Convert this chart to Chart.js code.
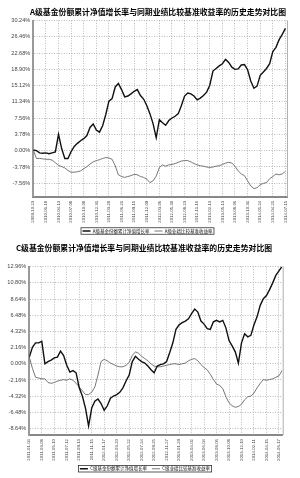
<!DOCTYPE html>
<html>
<head>
<meta charset="utf-8">
<script src="https://cdn.jsdelivr.net/npm/chart.js@4.4.1/dist/chart.umd.min.js"></script>
<style>
html, body { margin: 0; padding: 0; width: 300px; height: 478px; overflow: hidden; background: #fff; }
.title { position: absolute; width: 300px; text-align: center; white-space: nowrap;
  font: bold 7.85px/10px "Noto Sans CJK SC", sans-serif; color: #000; z-index: 2; }
.box { position: absolute; left: 0; width: 300px; }
</style>
</head>
<body>
<div class="title" style="left:8px;top:7px">A级基金份额累计净值增长率与同期业绩比较基准收益率的历史走势对比图</div>
<div class="box" style="top:0;height:244px"><canvas id="chartA"></canvas></div>
<div class="title" style="left:-6px;top:243px">C级基金份额累计净值增长率与同期业绩比较基准收益率的历史走势对比图</div>
<div class="box" style="top:243px;height:238px"><canvas id="chartC"></canvas></div>
<script>
// x tick dates, one every 4 samples
const datesA = ['2009-10-23', '2010-01-18', '2010-04-13', '2010-07-08', '2010-10-08', '2010-12-31',
  '2011-03-28', '2011-06-21', '2011-09-15', '2011-12-09', '2012-03-06', '2012-05-30', '2012-08-23',
  '2012-11-16', '2013-02-13', '2013-05-13', '2013-08-06', '2013-10-31', '2014-01-24', '2014-04-21', '2014-07-15'];
const datesC = ['2011-01-04', '2011-03-08', '2011-05-10', '2011-07-12', '2011-09-13', '2011-11-15',
  '2012-01-17', '2012-03-20', '2012-05-22', '2012-07-24', '2012-09-25', '2012-11-27', '2013-01-29',
  '2013-04-02', '2013-06-04', '2013-08-06', '2013-10-08', '2013-12-10', '2014-02-11', '2014-04-15', '2014-06-17'];

// y ticks (%)
const ticksA = [30.24, 26.46, 22.68, 18.90, 15.12, 11.34, 7.56, 3.78, 0, -3.78, -7.56];
const ticksC = [12.96, 10.80, 8.64, 6.48, 4.32, 2.16, 0, -2.16, -4.32, -6.48, -8.64];

// A share: fund NAV growth and benchmark (%)
const fundA = [0.15, 0.0, -0.5, -0.6, -0.5, -0.7, -0.5, -0.3, 3.8, 0.5,
  -1.8, -1.8, -0.2, 1.0, 1.7, 2.3, 2.8, 3.5, 5.4, 6.2,
  4.8, 4.3, 5.8, 8.4, 11.5, 12.1, 14.8, 15.6, 14.2, 12.5,
  12.7, 13.2, 13.8, 14.2, 12.8, 12.0, 10.5, 8.6, 6.3, 3.0,
  7.2, 6.5, 5.9, 7.0, 7.6, 8.0, 8.6, 10.5, 12.7, 13.4,
  13.2, 12.7, 11.8, 12.2, 12.8, 13.6, 15.2, 18.5, 19.1, 19.7,
  20.2, 21.2, 20.5, 19.4, 18.9, 19.0, 19.9, 20.0, 18.8, 16.2,
  14.5, 15.0, 17.5, 18.3, 19.1, 20.2, 23.0, 24.0, 25.8, 27.0, 28.4];
const benchA = [0.15, -1.8, -1.8, -1.9, -2.0, -2.0, -2.2, -2.8, -3.4, -3.7,
  -4.0, -4.6, -5.0, -5.0, -4.9, -4.7, -4.2, -3.7, -3.1, -2.6,
  -2.3, -2.1, -1.8, -1.6, -1.7, -2.0, -3.5, -5.6, -6.0, -6.2,
  -6.0, -5.8, -5.5, -5.6, -6.0, -6.2, -6.6, -7.4, -7.0, -5.9,
  -3.9, -3.3, -3.6, -3.3, -3.2, -3.0, -2.7, -2.4, -2.3, -2.3,
  -2.6, -3.0, -3.3, -3.5, -3.6, -3.8, -3.9, -3.8, -3.6, -3.5,
  -3.2, -2.9, -2.7, -2.9, -3.6, -4.7, -5.4, -5.8, -7.0, -8.2,
  -8.8, -8.6, -7.9, -7.6, -7.4, -6.5, -6.0, -5.4, -5.6, -5.4, -4.8];

// C share
const fundC = [0.9, 2.2, 2.8, 2.8, 3.0, 0.0, 0.3, 0.5, 0.8, 0.9,
  1.7, 1.1, -0.2, -1.1, -0.9, -1.2, -3.2, -4.3, -5.9, -8.3,
  -5.9, -5.0, -4.7, -5.3, -6.2, -5.6, -4.6, -4.3, -4.1, -3.8,
  -3.2, -2.3, -1.5, 0.3, 1.0, 0.6, 0.3, 0.1, -0.3, -0.8,
  -1.2, -0.3, -0.1, 0.0, 0.3, 1.5, 2.8, 4.6, 5.2, 5.5,
  5.7, 6.0, 6.7, 7.3, 6.9, 5.7, 5.3, 4.7, 4.6, 5.6,
  5.8, 5.6, 5.8, 4.8, 3.1, 2.4, 1.6, 0.1, 2.8, 4.0,
  3.6, 3.8, 5.2, 6.3, 7.8, 8.7, 9.1, 9.9, 10.8, 11.8, 12.4, 13.0];
const benchC = [0.9, -0.6, -1.8, -1.9, -2.0, -2.0, -2.5, -2.6, -2.5, -2.3,
  -2.2, -2.1, -2.2, -2.0, -2.2, -2.6, -3.1, -3.6, -4.1, -4.1,
  -3.8, -3.1, -1.5, 0.3, 0.6, 0.4, 0.1, -0.1, -0.3, -0.4,
  -0.4, -0.2, 0.2, 1.1, 1.6, 1.4, 1.0, 0.7, 0.4, 0.0,
  -0.3, -0.4, -0.4, -0.3, -0.2, -0.1, 0.0, 0.0, -0.1, 0.0,
  0.1, 0.4, 0.6, 0.7, 0.4, -0.1, -0.5, -0.8, -1.4, -2.1,
  -2.7, -2.9, -3.3, -4.4, -5.2, -5.6, -5.8, -5.7, -5.4, -4.8,
  -4.4, -4.3, -3.9, -3.2, -2.6, -2.1, -2.2, -2.1, -2.0, -1.8, -1.6, -0.9];

const perTick = 4;

// right edge of the plot and box round the legend
const frame = {
    id: 'frame',
    afterDraw(chart) {
        const ctx = chart.ctx;
        const a = chart.chartArea;
        ctx.save();
        ctx.strokeStyle = '#b0b0b0';
        ctx.lineWidth = 1;
        ctx.beginPath();
        ctx.moveTo(a.right + 0.5, a.top);
        ctx.lineTo(a.right + 0.5, a.bottom);
        ctx.stroke();
        const boxes = chart.legend.legendHitBoxes;
        if (boxes && boxes.length) {
            const left = Math.min(...boxes.map(b => b.left));
            const right = Math.max(...boxes.map(b => b.left + b.width));
            const top = boxes[0].top;
            ctx.strokeStyle = '#333';
            ctx.lineWidth = 0.8;
            ctx.strokeRect(left - 1.5, top - 1, right - left + 3, boxes[0].height + 2);
        }
        ctx.restore();
    }
};

function makeChart(id, dates, ticks, fund, bench, labels, o) {
    return new Chart(document.getElementById(id), {
        type: 'line',
        data: {
            datasets: [{
                label: labels[0],
                data: fund.map((v, i) => ({x: i, y: v})),
                borderColor: '#111',
                backgroundColor: '#111',
                borderWidth: 1.4
            }, {
                label: labels[1],
                data: bench.map((v, i) => ({x: i, y: v})),
                borderColor: '#555',
                backgroundColor: '#555',
                borderWidth: 0.8
            }]
        },
        options: {
            responsive: true,
            maintainAspectRatio: false,
            animation: false,
            events: [],
            layout: {padding: o.padding},
            elements: {point: {radius: 0}, line: {tension: 0}},
            plugins: {
                title: {display: false},
                tooltip: {enabled: false},
                legend: {
                    position: 'bottom',
                    labels: {
                        usePointStyle: true,
                        pointStyle: 'line',
                        pointStyleWidth: 8,
                        padding: 5,
                        color: '#111',
                        font: {family: 'Noto Sans CJK SC', size: 4.5}
                    }
                }
            },
            scales: {
                x: {
                    type: 'linear',
                    min: 0,
                    max: o.xMax,
                    afterBuildTicks: s => { s.ticks = dates.map((d, i) => ({value: i * perTick})); },
                    afterFit: s => { s.height = o.xHeight; },
                    ticks: {
                        autoSkip: false,
                        minRotation: 90,
                        maxRotation: 90,
                        padding: 4,
                        color: '#444',
                        font: {family: 'Liberation Sans', size: 4.3},
                        callback: v => dates[Math.round(v / perTick)]
                    },
                    grid: {color: '#aaa', lineWidth: 0.8, drawTicks: false},
                    border: {color: '#888', width: 2, dash: [1, 1.5]}
                },
                y: {
                    min: o.yMin,
                    max: ticks[0],
                    afterBuildTicks: s => { s.ticks = ticks.map(v => ({value: v})); },
                    afterFit: s => { s.width = o.yWidth; },
                    ticks: {
                        padding: 3,
                        color: '#444',
                        font: {family: 'Liberation Sans', size: 5.6},
                        callback: v => v.toFixed(2) + '%'
                    },
                    grid: {color: '#aaa', lineWidth: 0.8, drawTicks: false},
                    border: {color: '#999', width: 2, dash: [1, 1.5]}
                }
            }
        },
        plugins: [frame]
    });
}

makeChart('chartA', datesA, ticksA, fundA, benchA,
    ['A级基金份额累计净值增长率', 'A级业绩比较基准收益率'],
    {padding: {top: 20.5, right: 13, left: 8, bottom: 0.75}, xMax: 80.5, yMin: -10.7, xHeight: 27, yWidth: 25.3});

makeChart('chartC', datesC, ticksC, fundC, benchC,
    ['C级基金份额累计净值增长率', 'C级业绩比较基准收益率'],
    {padding: {top: 23.7, right: 17.3, left: 7.3, bottom: 0}, xMax: 81.2, yMin: -9.5, xHeight: 26.5, yWidth: 22});
</script>
</body>
</html>
